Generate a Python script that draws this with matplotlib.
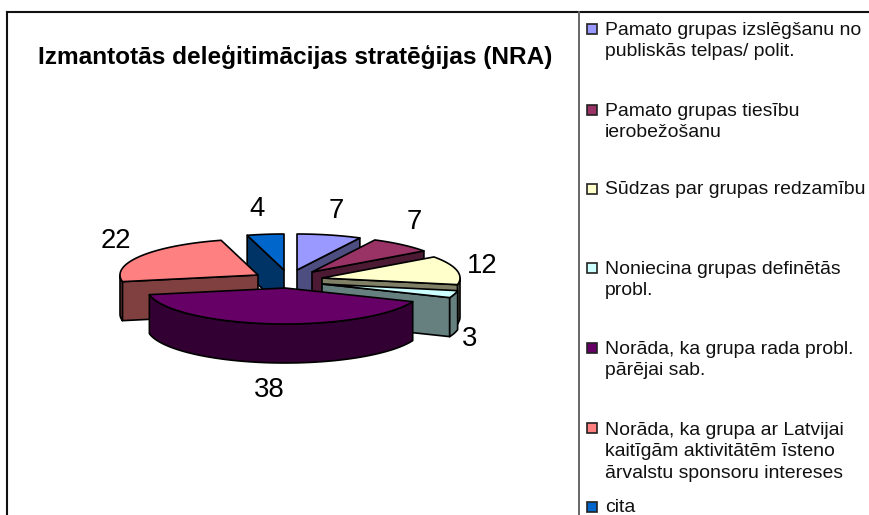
import numpy as np
import matplotlib
matplotlib.use("Agg")
import matplotlib.pyplot as plt
from matplotlib.patches import Polygon, Rectangle

plt.rcParams["font.family"] = ["Liberation Sans", "DejaVu Sans"]

title = "Izmantotās deleģitimācijas stratēģijas (NRA)"
categories = [
    "Pamato grupas izslēgšanu no\npubliskās telpas/ polit.",
    "Pamato grupas tiesību\nierobežošanu",
    "Sūdzas par grupas redzamību",
    "Noniecina grupas definētās\nprobl.",
    "Norāda, ka grupa rada probl.\npārējai sab.",
    "Norāda, ka grupa ar Latvijai\nkaitīgām aktivitātēm īsteno\nārvalstu sponsoru intereses",
    "cita",
]
values = [7, 7, 12, 3, 38, 22, 4]

top_colors = ["#9999FF", "#993366", "#FFFFCC", "#CCFFFF", "#660066", "#FF8080", "#0066CC"]
side_colors = ["#4D4D80", "#4D1A33", "#808066", "#668080", "#330033", "#804040", "#003366"]

# layout (pixel space of an 870x515 figure)
apex = [(297, 270), (312, 272), (322, 278), (322, 284), (285, 288), (258, 275), (284, 270)]
label_xy = [(336, 211), (414, 222), (482, 266), (470, 339), (269, 390), (116, 241), (257, 209)]
legend_y = [29, 110, 189, 268, 348, 428, 507]
draw_order = [6, 0, 1, 2, 5, 3, 4]
RX, RY, DEPTH = 138, 36, 39
EDGE = "black"

fig = plt.figure(figsize=(8.7, 5.15), dpi=100)
ax = fig.add_axes([0, 0, 1, 1])
ax.set_xlim(0, 870)
ax.set_ylim(515, 0)
ax.axis("off")


def rim(c, deg):
    t = np.radians(deg)
    return np.column_stack([c[0] + RX * np.sin(t), c[1] - RY * np.cos(t)])


def poly(pts, face, z):
    ax.add_patch(Polygon(pts, closed=True, facecolor=face, edgecolor=EDGE,
                         linewidth=1.2, joinstyle="round", zorder=z))


cum = np.concatenate([[0], np.cumsum(values)]) / np.sum(values) * 360.0
drop = np.array([0, DEPTH])
z = 2
for i in draw_order:
    a0, a1 = cum[i], cum[i + 1]
    c = np.array(apex[i], dtype=float)
    mid = rim(c, (a0 + a1) / 2)[0] - c

    # radial cut walls that face the viewer
    for a in (a0, a1):
        e = rim(c, a)[0]
        d = e - c
        cross_y = mid[1] - d[1] * (mid[0] / d[0]) if abs(d[0]) > 1e-6 else 1
        if abs(d[0]) > 1e-6 and cross_y < 0:
            poly([c, e, e + drop, c + drop], side_colors[i], z)
            z += 1

    # outer rim wall (front half only)
    lo, hi = max(a0, 90.0), min(a1, 270.0)
    if hi > lo:
        arc = rim(c, np.linspace(lo, hi, 80))
        poly(np.vstack([arc, arc[::-1] + drop]), side_colors[i], z)
        z += 1

    # top face
    arc = rim(c, np.linspace(a0, a1, 80))
    poly(np.vstack([c, arc]), top_colors[i], z)
    z += 1

for v, (x, y) in zip(values, label_xy):
    ax.text(x, y, str(v), fontsize=19.8, ha="center", va="center", color="black", zorder=50)

ax.text(295, 57, title, fontsize=17.6, fontweight="bold", ha="center", va="center", color="black", zorder=50)

# chart frame and legend box
ax.plot([7.5, 870], [11.5, 11.5], color="#111111", lw=1.5, zorder=60, solid_capstyle="projecting")
ax.plot([7.5, 7.5], [11.5, 515], color="#111111", lw=1.5, zorder=60)
ax.plot([579.5, 579.5], [11.5, 515], color="#666666", lw=1.4, zorder=60)

for name, y, fc in zip(categories, legend_y, top_colors):
    ax.add_patch(Rectangle((587, y - 5), 10, 10, facecolor=fc, edgecolor="#222222", lw=1.2, zorder=55))
    n = name.count("\n")
    ax.text(605, y + n * 12, name, fontsize=13.95, ha="left", va="center",
            linespacing=1.33, color="#111111", zorder=55)

fig.savefig("out.png", dpi=100)
